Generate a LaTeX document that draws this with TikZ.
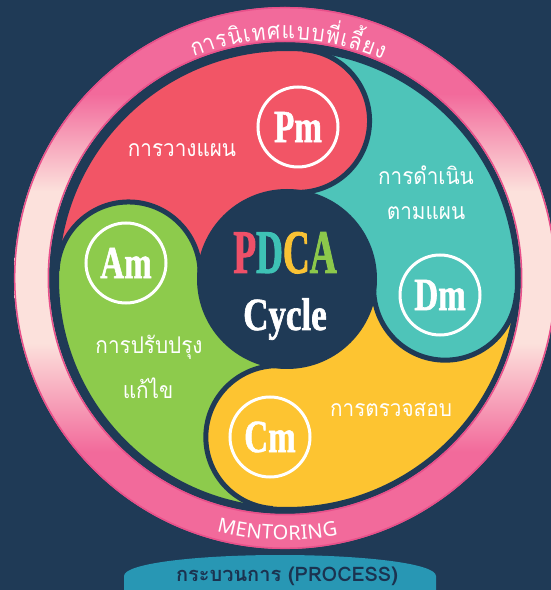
\documentclass[tikz,border=0pt]{standalone}
\usepackage{fontspec}
\usetikzlibrary{calc}
\newfontfamily\thaifont[Script=Thai]{Loma}
\newfontfamily\thaisl[Script=Thai,FakeStretch=0.9]{Loma}
\newfontfamily\condA[FakeStretch=0.6,FakeBold=1.4]{Liberation Serif}
\newfontfamily\condB[FakeStretch=0.76,FakeBold=1.4]{Liberation Serif}
\newfontfamily\condC[FakeStretch=0.72,FakeBold=1.2]{Liberation Serif}
\newfontfamily\ringsans{Noto Sans}
\definecolor{navy}{HTML}{1F3A56}
\definecolor{navyt}{HTML}{1B3350}
\definecolor{cred}{HTML}{F25566}
\definecolor{cteal}{HTML}{4EC4B9}
\definecolor{cyellow}{HTML}{FDC431}
\definecolor{cgreen}{HTML}{8DCB4C}
\definecolor{pinkA}{HTML}{F26A9B}
\definecolor{pinkL}{HTML}{FCE1DC}
\definecolor{pinkD}{HTML}{E8508A}
\definecolor{banner}{HTML}{2897B4}
\definecolor{tP}{HTML}{EF5068}
\definecolor{tD}{HTML}{3EC2B5}
\definecolor{tC}{HTML}{F9C234}
\definecolor{tA}{HTML}{8CC84B}
\pgfdeclareverticalshading{ringshade}{100bp}{color(0bp)=(pinkA); color(34bp)=(pinkA); color(44bp)=(pinkL); color(58bp)=(pinkL); color(67bp)=(pinkA); color(100bp)=(pinkA)}
\newsavebox\arcbox
\newdimen\arcS
\newdimen\arcT
\newcommand\topfont{\thaisl\fontsize{23}{25}\selectfont}
\newcommand\botfont{\ringsans\fontsize{20}{22}\selectfont}
% measure a list of clusters: #1 font, #2 extra spacing, #3 list
\newcommand\measurearc[3]{%
  \gdef\arcacc{}%
  \global\arcS=0pt
  \foreach \c in {#3}{%
    \sbox\arcbox{#1\c}\global\arcT=\wd\arcbox
    \global\advance\arcT by #2
    \pgfmathsetmacro\mpos{\the\arcS+0.5*\the\arcT}%
    \xdef\arcacc{\arcacc\ifx\arcacc\empty\else,\fi\mpos/\c}%
    \global\advance\arcS by \arcT}}
\tikzset{
  thaitxt/.style={text=white, font=\thaisl\fontsize{23}{25}\selectfont, inner sep=0pt},
  lblcirc/.style={circle, draw=white, line width=3pt, minimum size=80pt, inner sep=0pt, text=white, font=\condC\bfseries\fontsize{46}{46}\selectfont},
  bulbline/.style={navy, line width=5pt},
  arcchar/.style={anchor=base, inner sep=0pt, text=white}
}
\begin{document}
\begin{tikzpicture}[x=1pt,y=1pt]
\fill[navy] (0,0) rectangle (551,590);
\useasboundingbox (0,0) rectangle (551,590);
\coordinate (RC) at (285,312);
\coordinate (O) at (287,311);
% measurements (done inside a node, where fonts are active)
\node[inner sep=0pt] (measure) at (0,0) {%
  \measurearc{\topfont}{1.2pt}{กา,ร,นิ,เ,ท,ศ,แ,บ,บ,พี่,เ,ลี้,ย,ง}%
  \global\let\toplist\arcacc\xdef\topW{\the\arcS}%
  \measurearc{\botfont}{0.3pt}{M,E,N,T,O,R,I,N,G}%
  \global\let\botlist\arcacc\xdef\botW{\the\arcS}};
% ring
\shade[shading=ringshade, even odd rule] (RC) circle (271) (RC) circle (236);
\draw[pinkD, line width=1.5pt] (RC) circle (270.3) (RC) circle (236.7);
% sectors and bulbs
\begin{scope}
\clip (O) circle (230);
\fill[cred] (O) -- ++(86:240) arc[start angle=86,end angle=178,radius=240] -- cycle;
\fill[cgreen] (O) -- ++(178:240) arc[start angle=178,end angle=266.5,radius=240] -- cycle;
\fill[cyellow] (O) -- ++(266.5:240) arc[start angle=266.5,end angle=356.5,radius=240] -- cycle;
\fill[cteal] (O) -- ++(356.5:240) arc[start angle=356.5,end angle=446,radius=240] -- cycle;
\foreach \a/\c in {86/cred,178/cgreen,266.5/cyellow,356.5/cteal}{
  \fill[\c] ([shift={(\a:158.5)}]O) circle (71.5);
  \draw[bulbline] ([shift={(\a:158.5)}]O) ++(\a:71.5) arc[start angle=\a, end angle=\a-180, radius=71.5];
}
\end{scope}
\draw[navy, line width=4pt] (O) circle (230);
\fill[navy] (O) circle (90);
% center text
\node[anchor=base, inner sep=0pt, font=\condA\bfseries\fontsize{62}{62}\selectfont] (pdca) at (285,317) {\textcolor{tP}{P}\textcolor{tD}{D}\textcolor{tC}{C}\textcolor{tA}{A}};
\node[anchor=base, inner sep=0pt, text=white, font=\condB\bfseries\fontsize{46}{46}\selectfont] (cycle) at (285,260) {Cycle};
% label circles
\node[lblcirc] (pm) at (298,463) {Pm};
\node[lblcirc] (dm) at (440,295) {Dm};
\node[lblcirc] (am) at (126,327) {Am};
\node[lblcirc] (cm) at (270,153) {Cm};
% Thai labels
\node[thaitxt] (plan) at (182,440) {การวางแผน};
\node[thaitxt] (do1) at (426,415) {การดำเนิน};
\node[thaitxt] (do2) at (426,377) {ตามแผน};
\node[thaitxt] (act1) at (149,243) {การปรับปรุง};
\node[thaitxt] (act2) at (148,202) {แก้ไข};
\node[thaitxt] (chk) at (391,180) {การตรวจสอบ};
% top arc text
\foreach \p/\c in \toplist {%
  \pgfmathsetmacro\ang{89.2+(0.5*\topW-\p)/239*180/pi}%
  \node[arcchar, rotate=\ang-90] at ([shift={(\ang:239)}]RC) {\topfont\c};
}
% bottom arc text
\foreach \p/\c in \botlist {%
  \pgfmathsetmacro\ang{268.3-(0.5*\botW-\p)/262*180/pi}%
  \node[arcchar, rotate=\ang-270] at ([shift={(\ang:262)}]RC) {\botfont\c};
}
% banner
\fill[banner] (124,0) -- (124,14) .. controls (124,27) and (200,35) .. (280,35) .. controls (360,35) and (436,27) .. (436,14) -- (436,0) -- cycle;
\node[text=navyt, font=\thaifont\bfseries\fontsize{20}{22}\selectfont] (proc) at (287,14) {กระบวนการ (PROCESS)};
\end{tikzpicture}
\end{document}
